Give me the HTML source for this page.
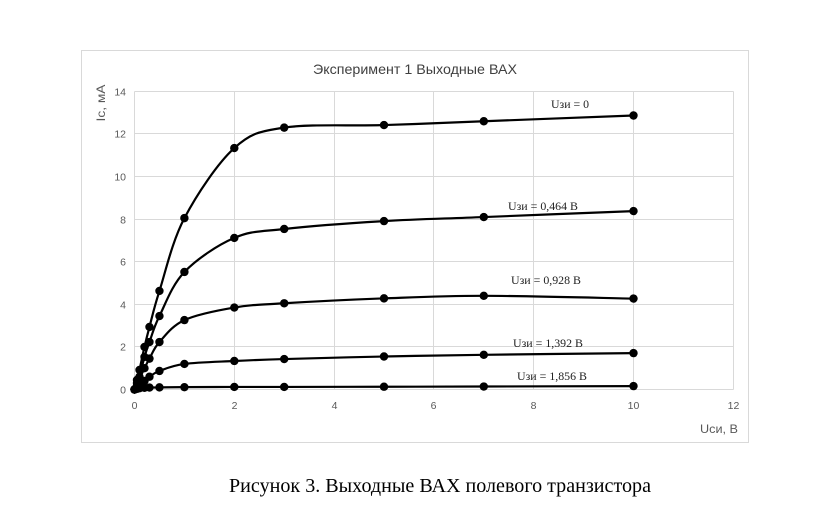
<!DOCTYPE html>
<html><head><meta charset="utf-8">
<style>
html,body{margin:0;padding:0;background:#fff;}
svg{display:block;}
</style></head>
<body>
<svg id="c" width="827" height="506" viewBox="0 0 827 506" xmlns="http://www.w3.org/2000/svg">
<rect x="81.5" y="50.5" width="667" height="392" fill="#fff" stroke="#d9d9d9" stroke-width="1"/>
<g id="grid" stroke="#d9d9d9" stroke-width="1" fill="none"></g>
<g id="labels" font-family="'Liberation Sans', sans-serif" font-size="10.5" fill="#595959"></g>
<text x="415" y="74" text-anchor="middle" font-family="'Liberation Sans', sans-serif" font-size="14" fill="#404040" textLength="204" lengthAdjust="spacingAndGlyphs">Эксперимент 1 Выходные ВАХ</text>
<text transform="translate(105,103) rotate(-90)" text-anchor="middle" font-family="'Liberation Sans', sans-serif" font-size="12" fill="#595959" textLength="37" lengthAdjust="spacingAndGlyphs">Ic, мА</text>
<text x="738" y="433" text-anchor="end" font-family="'Liberation Sans', sans-serif" font-size="12" fill="#595959" textLength="38" lengthAdjust="spacingAndGlyphs">Uси, В</text>
<g id="series" fill="none" stroke="#000" stroke-width="2.2"></g>
<g id="marks" fill="#000"></g>
<g font-family="'Liberation Serif', serif" font-size="12" fill="#222">
<text x="551" y="108" textLength="38" lengthAdjust="spacingAndGlyphs">Uзи = 0</text>
<text x="508" y="210" textLength="70" lengthAdjust="spacingAndGlyphs">Uзи = 0,464 В</text>
<text x="511" y="284" textLength="70" lengthAdjust="spacingAndGlyphs">Uзи = 0,928 В</text>
<text x="513" y="347" textLength="70" lengthAdjust="spacingAndGlyphs">Uзи = 1,392 В</text>
<text x="517" y="380" textLength="70" lengthAdjust="spacingAndGlyphs">Uзи = 1,856 В</text>
</g>
<text x="229" y="492" font-family="'Liberation Serif', serif" font-size="19.5" fill="#000" textLength="422" lengthAdjust="spacingAndGlyphs">Рисунок 3. Выходные ВАХ полевого транзистора</text>
</svg>
<script>
(function(){
var NS="http://www.w3.org/2000/svg";
function X(x){return 134.5+x*49.9;}
function Y(y){return 389.5-y*21.29;}
var grid=document.getElementById('grid');
var xs=[134.5,234.5,334.5,433.5,533.5,633.5,733.5];
var ys=[389.5,346.5,304.5,261.5,219.5,176.5,133.5,91.5];
xs.forEach(function(x){var l=document.createElementNS(NS,'line');l.setAttribute('x1',x);l.setAttribute('x2',x);l.setAttribute('y1',91.5);l.setAttribute('y2',389.5);grid.appendChild(l);});
ys.forEach(function(y){var l=document.createElementNS(NS,'line');l.setAttribute('x1',134.5);l.setAttribute('x2',733.5);l.setAttribute('y1',y);l.setAttribute('y2',y);grid.appendChild(l);});
var lab=document.getElementById('labels');
for(var i=0;i<=7;i++){var t=document.createElementNS(NS,'text');t.setAttribute('x',126);t.setAttribute('y',ys[i]+4);t.setAttribute('text-anchor','end');t.textContent=String(i*2);lab.appendChild(t);}
for(var j=0;j<=6;j++){var t2=document.createElementNS(NS,'text');t2.setAttribute('x',xs[j]);t2.setAttribute('y',409);t2.setAttribute('text-anchor','middle');t2.textContent=String(j*2);lab.appendChild(t2);}
var xv=[0,0.05,0.1,0.2,0.3,0.5,1,2,3,5,7,10];
var data=[
[0,0.45,0.92,2.0,2.94,4.63,8.05,11.34,12.3,12.42,12.6,12.87],
[0,0.3,0.6,1.53,2.23,3.45,5.52,7.12,7.54,7.91,8.1,8.38],
[0,0.2,0.5,1.0,1.45,2.23,3.26,3.85,4.05,4.28,4.4,4.27],
[0,0.08,0.2,0.4,0.6,0.87,1.2,1.34,1.43,1.55,1.63,1.71],
[0,0.03,0.06,0.08,0.09,0.1,0.11,0.12,0.12,0.13,0.14,0.16]
];
var sg=document.getElementById('series'),mg=document.getElementById('marks');
data.forEach(function(s){
  var p=s.map(function(v,k){return [X(xv[k]),Y(v)];});
  var d='M'+p[0][0].toFixed(2)+','+p[0][1].toFixed(2);
  for(var k=0;k<p.length-1;k++){
    var p0=p[k>0?k-1:k],p1=p[k],p2=p[k+1],p3=p[k+2<p.length?k+2:k+1];
    var c1=[p1[0]+(p2[0]-p0[0])/6,p1[1]+(p2[1]-p0[1])/6];
    var c2=[p2[0]-(p3[0]-p1[0])/6,p2[1]-(p3[1]-p1[1])/6];
    d+=' C'+c1[0].toFixed(2)+','+c1[1].toFixed(2)+' '+c2[0].toFixed(2)+','+c2[1].toFixed(2)+' '+p2[0].toFixed(2)+','+p2[1].toFixed(2);
  }
  var path=document.createElementNS(NS,'path');path.setAttribute('d',d);sg.appendChild(path);
  p.forEach(function(q){var c=document.createElementNS(NS,'circle');c.setAttribute('cx',q[0]);c.setAttribute('cy',q[1]);c.setAttribute('r',4.2);mg.appendChild(c);});
});
})();
</script>
</body></html>
